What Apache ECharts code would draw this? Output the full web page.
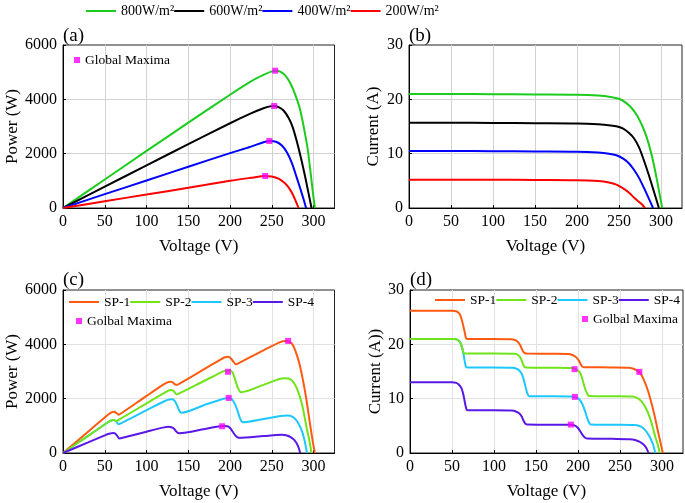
<!DOCTYPE html>
<html><head><meta charset="utf-8">
<script src="https://cdn.jsdelivr.net/npm/echarts@6/dist/echarts.min.js"></script>
<style>html,body{margin:0;padding:0;background:#fff}#c{width:685px;height:503px}</style>
</head><body><div id="c"></div>
<script>
// ---------- (a) P–V under uniform irradiance ----------
const Va_800 = [0,50,100,150,200,225,240,250,255,260,266,272,278,284,289,293,296,299,301.5];
const Pa_800 = [0,1050,2100,3140,4170,4660,4900,5030,5050,5020,4880,4600,4170,3600,2850,2150,1400,600,0];
const Va_600 = [0,50,100,150,200,225,240,248,253,258,264,270,275,280,285,290,294,297.5];
const Pa_600 = [0,785,1570,2350,3120,3480,3670,3740,3755,3715,3590,3320,2970,2440,1820,1130,530,0];
const Va_400 = [0,50,100,150,200,225,240,247,255,262,268,274,280,284,288,291];
const Pa_400 = [0,510,1010,1520,2020,2260,2420,2466,2440,2300,2050,1650,1100,720,320,0];
const Va_200 = [0,50,100,150,200,225,242,250,258,265,270,274,278,282];
const Pa_200 = [0,250,495,745,1000,1110,1178,1160,1080,930,760,560,300,0];
const GMa_V = [254,252.8,247,242];
const GMa_P = [5054,3755,2466,1178];

// ---------- (b) I–V under uniform irradiance ----------
const Vb_800 = [0,50,100,150,200,225,240,250,258,265,272,278,283,288,292,296,299,301.5];
const Ib_800 = [21.0,21.0,20.95,20.9,20.85,20.7,20.45,20.1,19.4,18.4,16.9,15.0,13.0,10.3,7.6,4.5,2.0,0];
const Vb_600 = [0,50,100,150,200,225,240,248,255,262,268,274,280,285,290,294,297.5];
const Ib_600 = [15.7,15.7,15.65,15.6,15.55,15.4,15.2,15.0,14.6,13.8,12.8,11.1,8.6,6.3,3.8,1.8,0];
const Vb_400 = [0,50,100,150,200,225,238,247,255,262,268,274,280,285,288,290.5];
const Ib_400 = [10.5,10.5,10.45,10.4,10.35,10.2,10.0,9.7,9.1,8.2,7.0,5.5,3.6,1.9,0.9,0];
const Vb_200 = [0,50,100,150,200,225,238,247,255,262,268,274,278,281];
const Ib_200 = [5.2,5.2,5.2,5.15,5.1,4.95,4.7,4.3,3.6,2.8,1.9,1.1,0.55,0];

// ---------- (c)/(d) shading patterns ----------
const Vc_SP1 = [0,30,50,55,58,60,62,64,65.5,66.5,68,100,120,125,128,131,133,135,137,140,170,188,194,198,201,204,207,210,240,260,266,270,274,278,283,288,292,296,299,301.5];
const Pc_SP1 = [0,786,1310,1436,1496,1518,1507,1472,1441,1410,1428,2100,2514,2600,2624,2607,2554,2511,2514,2562,3103,3430,3525,3540,3480,3360,3265,3300,3780,4082,4123,4104,4028,3781,3283,2563,1840,1006,419,0];
const Vd_SP1 = [0,30,50,55,58,60,62,64,65.5,66.5,68,100,120,125,128,131,133,135,137,140,170,188,194,198,201,203,205,207,240,260,266,270,274,278,283,288,292,296,299,301];
const Id_SP1 = [26.2,26.2,26.2,26.1,25.8,25.3,24.3,23.0,22.0,21.2,21.0,21.0,20.95,20.8,20.5,19.9,19.2,18.6,18.35,18.3,18.25,18.2,18.0,17.6,17.0,16.4,15.9,15.8,15.75,15.7,15.5,15.2,14.7,13.6,11.6,8.9,6.3,3.4,1.4,0];

const V_SP2 = [0,30,53,57,60,62,63.5,65,100,125,129,132,134,136,138,170,192,196,200,203,205,207,209,211,213,240,265,270,275,280,286,292,295,297.5];
const Pc_SP2 = [0,630,1113,1186,1218,1203,1175,1190,1830,2281,2322,2297,2224,2162,2174,2669,3005,3038,3040,2964,2809,2608,2424,2300,2237,2508,2756,2741,2640,2380,1802,876,443,0];
const Id_SP2 = [21.0,21.0,21.0,20.8,20.3,19.4,18.5,18.3,18.3,18.25,18.0,17.4,16.6,15.9,15.75,15.7,15.65,15.5,15.2,14.6,13.7,12.6,11.6,10.9,10.5,10.45,10.4,10.15,9.6,8.5,6.3,3.0,1.5,0];

const V_SP3 = [0,30,53,57,60,62,63.5,65,66.5,68,100,122,127,130,133,135,137,139,140.5,142,170,192,196,200,203,206,209,211.5,213.5,215,240,268,275,280,285,289,292];
const Pc_SP3 = [0,630,1113,1186,1218,1203,1168,1105,1057,1071,1575,1915,1969,1976,1942,1850,1713,1571,1503,1484,1777,1997,2019,2020,1949,1792,1547,1311,1174,1129,1248,1380,1334,1176,884,491,0];
const Id_SP3 = [21.0,21.0,21.0,20.8,20.3,19.4,18.4,17.0,15.9,15.75,15.75,15.7,15.5,15.2,14.6,13.7,12.5,11.3,10.7,10.45,10.45,10.4,10.3,10.1,9.6,8.7,7.4,6.2,5.5,5.25,5.2,5.15,4.85,4.2,3.1,1.7,0];

const V_SP4 = [0,30,50,55,58,61,63,64.5,66,67.5,69,100,121,126,130,133,135,137,139,170,192,197,200,203,206,209,211,240,262,268,273,277,281,284];
const Pc_SP4 = [0,390,650,710,731,732,699,645,581,537,542,785,944,964,949,891,810,747,730,884,998,985,920,792,659,575,559,624,668,643,573,471,281,0];
const Id_SP4 = [13.0,13.0,13.0,12.9,12.6,12.0,11.1,10.0,8.8,7.95,7.85,7.85,7.8,7.65,7.3,6.7,6.0,5.45,5.25,5.2,5.2,5.0,4.6,3.9,3.2,2.75,2.65,2.6,2.55,2.4,2.1,1.7,1.0,0];

const GMc_V = [269.5,197.5,198.3,190.5];
const GMc_P = [4125,2990,2028,985];
const GMd_V = [273,195.9,196.3,191.5];
const GMd_I = [14.93,15.43,10.33,5.23];

const IRR_NAMES = ['800W/m²','600W/m²','400W/m²','200W/m²'];
const SP_NAMES = ['SP-1','SP-2','SP-3','SP-4'];
const X_TICK_MAX = 325;

// ---------- styling ----------
const F = 'Liberation Serif';
const C_IRR = ['#1ccc1c','#000000','#0000ff','#ff0000'];
const C_SP = ['#ff5a10','#6ee41a','#1ec8ff','#5a18e6'];
const MAG = '#ff00ff';

function pairs(xs, ys){ return xs.map((x,i)=>[x, ys[i]]); }

const chart = echarts.init(document.getElementById('c'), null, {renderer:'canvas'});

function xAx(g, gc){
  return {type:'value', gridIndex:g, min:0, max:X_TICK_MAX, interval:50,
    name:'Voltage (V)', nameLocation:'middle', nameGap:30,
    nameTextStyle:{fontFamily:F, fontSize:17, color:'#000'},
    axisLine:{show:true, onZero:false, lineStyle:{color:'#000', width:1}},
    axisTick:{show:true, inside:true, length:3, lineStyle:{color:'#000'}},
    axisLabel:{fontFamily:F, fontSize:16, color:'#000', margin:6, showMaxLabel:false,
      formatter:function(v){return String(v);}},
    splitLine:{show:true, showMinLine:false, showMaxLine:false, lineStyle:{color:gc, width:1}}};
}
function yAx(g, max, interval, name, gap, gc){
  return {type:'value', gridIndex:g, min:0, max:max, interval:interval,
    name:name, nameLocation:'middle', nameGap:gap,
    nameTextStyle:{fontFamily:F, fontSize:17, color:'#000'},
    axisLine:{show:true, onZero:false, lineStyle:{color:'#000', width:1}},
    axisTick:{show:true, inside:true, length:3, lineStyle:{color:'#000'}},
    axisLabel:{fontFamily:F, fontSize:16, color:'#000', margin:6,
      formatter:function(v){return String(v);}},
    splitLine:{show:true, showMinLine:false, showMaxLine:false, lineStyle:{color:gc, width:1}}};
}
function line(name, color, xi, data, z){
  return {type:'line', name:name, xAxisIndex:xi, yAxisIndex:xi, data:data,
    showSymbol:false, symbol:'none', smooth:0.3, z:z||2,
    itemStyle:{color:color}, lineStyle:{color:color, width:2}};
}
function marks(name, xi, data){
  return {type:'scatter', name:name, xAxisIndex:xi, yAxisIndex:xi, data:data,
    symbol:'rect', symbolSize:6, z:5, itemStyle:{color:MAG}};
}
const gridBase = {show:true, borderColor:'#222', borderWidth:1, backgroundColor:'transparent'};
const legBase = {selectedMode:false, padding:0, itemGap:0, icon:'rect',
  textStyle:{fontFamily:F, fontSize:13.5, color:'#000'}};
function lab(t, l, tp){
  return {text:t, left:l, top:tp, padding:0,
    textStyle:{fontFamily:F, fontSize:19, fontWeight:'normal', color:'#000'}};
}

const series = [];
const Va = [Va_800, Va_600, Va_400, Va_200], Pa = [Pa_800, Pa_600, Pa_400, Pa_200];
const Vb = [Vb_800, Vb_600, Vb_400, Vb_200], Ib = [Ib_800, Ib_600, Ib_400, Ib_200];
for (let k=0;k<4;k++) series.push(line(IRR_NAMES[k], C_IRR[k], 0, pairs(Va[k], Pa[k])));
series.push(marks('Global Maxima', 0, pairs(GMa_V, GMa_P)));
for (let k=0;k<4;k++) series.push(line(IRR_NAMES[k], C_IRR[k], 1, pairs(Vb[k], Ib[k])));

const Vc = [Vc_SP1, V_SP2, V_SP3, V_SP4], Pc = [Pc_SP1, Pc_SP2, Pc_SP3, Pc_SP4];
const Vd = [Vd_SP1, V_SP2, V_SP3, V_SP4], Id = [Id_SP1, Id_SP2, Id_SP3, Id_SP4];
const zs = [3,3,2,3];
for (let k=0;k<4;k++) series.push(line(SP_NAMES[k], C_SP[k], 2, pairs(Vc[k], Pc[k]), zs[k]));
series.push(marks('Golbal Maxima', 2, pairs(GMc_V, GMc_P)));
for (let k=0;k<4;k++) series.push(line(SP_NAMES[k], C_SP[k], 3, pairs(Vd[k], Id[k]), zs[k]));
series.push(marks('Golbal Maxima', 3, pairs(GMd_V, GMd_I)));

const GC_TOP = '#d2d2d2', GC_BOT = '#e2e2e2';

chart.setOption({
  animation:false,
  backgroundColor:'#fff',
  title:[lab('(a)',63,27), lab('(b)',409,27), lab('(c)',63,271), lab('(d)',410,271)],
  grid:[
    Object.assign({left:63, top:45, width:271.5, height:163}, gridBase),
    Object.assign({left:409, top:45, width:273, height:163}, gridBase),
    Object.assign({left:63, top:290, width:271.5, height:163}, gridBase),
    Object.assign({left:410, top:290, width:273, height:163}, gridBase)
  ],
  xAxis:[xAx(0, GC_TOP), xAx(1, GC_TOP), xAx(2, GC_BOT), xAx(3, GC_BOT)],
  yAxis:[
    yAx(0, 6000, 2000, 'Power (W)', 42, GC_TOP),
    yAx(1, 30, 10, 'Current (A)', 27, GC_TOP),
    yAx(2, 6000, 2000, 'Power (W)', 39, GC_BOT),
    yAx(3, 30, 10, 'Current (A))', 22, GC_BOT)
  ],
  legend:[
    Object.assign({}, legBase, {data:IRR_NAMES, left:86, top:4, itemWidth:30, itemHeight:2,
      textStyle:{fontFamily:F, fontSize:14, color:'#000'}}),
    Object.assign({}, legBase, {data:['Global Maxima'], left:74, top:53, itemWidth:6, itemHeight:6}),
    Object.assign({}, legBase, {data:SP_NAMES, left:69, top:295, itemWidth:30, itemHeight:2}),
    Object.assign({}, legBase, {data:['Golbal Maxima'], left:76, top:314, itemWidth:6, itemHeight:6}),
    Object.assign({}, legBase, {data:SP_NAMES, left:435, top:293, itemWidth:30, itemHeight:2}),
    Object.assign({}, legBase, {data:['Golbal Maxima'], left:582, top:312, itemWidth:6, itemHeight:6})
  ],
  series:series
});
</script></body></html>
